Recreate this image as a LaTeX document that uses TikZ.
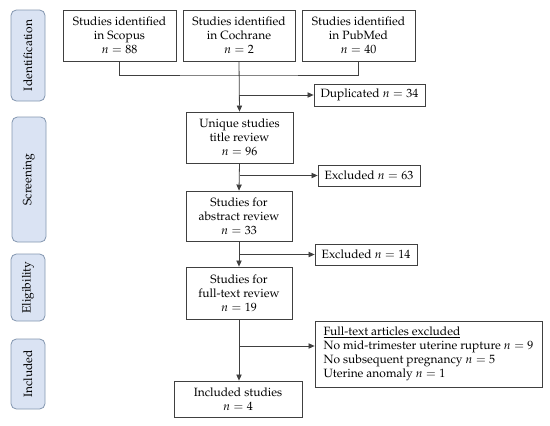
\documentclass[tikz,border=0pt]{standalone}
\usepackage[T1]{fontenc}
\usepackage{mathpazo}
\usepackage{tikz}
\usetikzlibrary{arrows.meta,positioning,calc}
\definecolor{boxline}{HTML}{404040}
\definecolor{sidefill}{HTML}{DAE3F3}
\definecolor{sideline}{HTML}{8497B0}
\tikzset{
  flowbox/.style={draw=boxline, line width=0.6pt, align=center, inner sep=1pt,
    font=\fontsize{9}{10.5}\selectfont},
  sidebox/.style={draw=sideline, fill=sidefill, line width=0.6pt, rounded corners=4pt,
    minimum height=34*0.75pt, rotate=90, font=\fontsize{9}{10.5}\selectfont},
  arr/.style={-{Triangle[length=1.6mm,width=1.4mm]}, line width=0.6pt, draw=boxline},
  link/.style={line width=0.6pt, draw=boxline}
}

\begin{document}
\begin{tikzpicture}[x=0.75pt,y=-0.75pt]
        \useasboundingbox (0,0) rectangle (550,425);
        % phase labels
        \node[sidebox, minimum width=91*0.75pt] (ident) at (28,55.5) {Identification};
        \node[sidebox, minimum width=125*0.75pt] (screen) at (29,179.5) {Screening};
        \node[sidebox, minimum width=67*0.75pt] (elig) at (28,287.5) {Eligibility};
        \node[sidebox, minimum width=70*0.75pt] (incl) at (28,374) {Included};
        % sources
        \node[flowbox, minimum width=113*0.75pt, minimum height=51*0.75pt] (scopus) at (119.5,35.5)
          {Studies identified\\in Scopus\\$n=88$};
        \node[flowbox, minimum width=112*0.75pt, minimum height=51*0.75pt] (cochrane) at (239,35.5)
          {Studies identified\\in Cochrane\\$n=2$};
        \node[flowbox, minimum width=113*0.75pt, minimum height=51*0.75pt] (pubmed) at (358.5,35.5)
          {Studies identified\\in PubMed\\$n=40$};
        % main column
        \node[flowbox, minimum width=107*0.75pt, minimum height=51*0.75pt] (unique) at (239.5,137.5)
          {Unique studies\\title review\\$n=96$};
        \node[flowbox, minimum width=106*0.75pt, minimum height=50*0.75pt] (abstract) at (239,216)
          {Studies for\\abstract review\\$n=33$};
        \node[flowbox, minimum width=106*0.75pt, minimum height=52*0.75pt] (fulltext) at (239,293)
          {Studies for\\full-text review\\$n=19$};
        \node[flowbox, minimum width=128*0.75pt, minimum height=36*0.75pt] (included) at (238,399)
          {Included studies\\$n=4$};
        % exclusions
        \node[flowbox, minimum width=111*0.75pt, minimum height=22*0.75pt] (dup) at (369.5,95)
          {Duplicated $n=34$};
        \node[flowbox, minimum width=102*0.75pt, minimum height=21*0.75pt] (exc1) at (369,175.5)
          {Excluded $n=63$};
        \node[flowbox, minimum width=102*0.75pt, minimum height=21*0.75pt] (exc2) at (366,254.5)
          {Excluded $n=14$};
        \node[flowbox, minimum width=227*0.75pt, minimum height=66*0.75pt, align=left] (exc3) at (428.5,354)
          {\underline{Full-text articles excluded}\\No mid-trimester uterine rupture $n=9$\\
           No subsequent pregnancy $n=5$\\Uterine anomaly $n=1$};
        % connectors
        \coordinate (merge) at (239,75);
        \coordinate (split3) at (239,346);
        \draw[link] (scopus.south) |- (merge) -| (pubmed.south);
        \draw[arr] (cochrane.south) -- (unique.north);
        \draw[arr] (cochrane.south |- dup.west) -- (dup.west);
        \draw[arr] (unique.south) -- (abstract.north);
        \draw[arr] (unique.south |- exc1.west) -- (exc1.west);
        \draw[arr] (abstract.south) -- (abstract.south |- fulltext.north);
        \draw[arr] (abstract.south |- exc2.west) -- (exc2.west);
        \draw[arr] (fulltext.south) -- (fulltext.south |- included.north);
        \draw[arr] (split3) -- (split3 -| exc3.west);
      \end{tikzpicture}
\end{document}
